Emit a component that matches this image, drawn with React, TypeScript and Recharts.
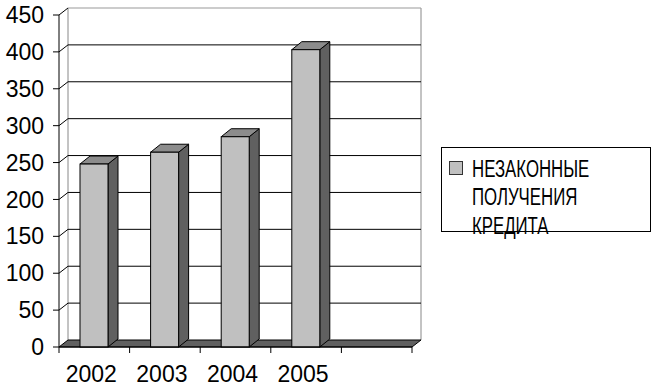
import { BarChart, Bar, XAxis, YAxis, CartesianGrid, Legend } from "recharts";

const years = ["2002", "2003", "2004", "2005", ""];
const credits = [248, 264, 285, 403, null];
const yTicks = [0, 50, 100, 150, 200, 250, 300, 350, 400, 450];
const seriesName = "НЕЗАКОННЫЕ ПОЛУЧЕНИЯ КРЕДИТА";
const legendLines = ["НЕЗАКОННЫЕ", "ПОЛУЧЕНИЯ", "КРЕДИТА"];

const data = years.map((year, i) => ({ year, value: credits[i] }));

const W = 652;
const H = 387;
const MARGIN = { top: 15, right: 240, bottom: 10, left: 0 };
const Y_AXIS_W = 59;
const X_AXIS_H = 30;
const PLOT_LEFT = MARGIN.left + Y_AXIS_W;
const PLOT_RIGHT = W - MARGIN.right;
const PLOT_TOP = MARGIN.top;
const PLOT_BOTTOM = H - MARGIN.bottom - X_AXIS_H;
const BAND = (PLOT_RIGHT - PLOT_LEFT) / years.length;

// depth of the fake 3d walls and of the bars
const WALL_DX = 9;
const WALL_DY = 7;
const BAR_DX = 10;
const BAR_DY = 8;

const FONT = "'Liberation Sans', Arial, sans-serif";

function gridLine(props: any) {
  const { x1, x2, y1, index } = props;
  const y = y1;
  if (Math.abs(y - PLOT_BOTTOM) < 0.5) {
    // floor and back wall edges
    return (
      <g key={`h-${index}`}>
        <line x1={x1 + WALL_DX} y1={PLOT_TOP - WALL_DY} x2={x1 + WALL_DX} y2={y - WALL_DY} stroke="#888" />
        <line x1={x2 + WALL_DX} y1={PLOT_TOP - WALL_DY} x2={x2 + WALL_DX} y2={y - WALL_DY} stroke="#888" />
        <polygon
          points={`${x1},${y} ${x2},${y} ${x2 + WALL_DX},${y - WALL_DY} ${x1 + WALL_DX},${y - WALL_DY}`}
          fill="#606060"
          stroke="#000"
          strokeWidth={1}
        />
      </g>
    );
  }
  const isTop = Math.abs(y - PLOT_TOP) < 0.5;
  return (
    <g key={`h-${index}`}>
      <line x1={x1} y1={y} x2={x1 + WALL_DX} y2={y - WALL_DY} stroke="#000" />
      <line
        x1={x1 + WALL_DX}
        y1={y - WALL_DY}
        x2={x2 + WALL_DX}
        y2={y - WALL_DY}
        stroke={isTop ? "#999" : "#000"}
      />
    </g>
  );
}

function Bar3D(props: any) {
  const { x, y, width, height } = props;
  if (!height || height <= 0) return null;
  const r = x + width;
  const b = y + height;
  return (
    <g>
      <polygon
        points={`${r},${y} ${r + BAR_DX},${y - BAR_DY} ${r + BAR_DX},${b - BAR_DY} ${r},${b}`}
        fill="#606060"
        stroke="#000"
      />
      <polygon
        points={`${x},${y} ${x + BAR_DX},${y - BAR_DY} ${r + BAR_DX},${y - BAR_DY} ${r},${y}`}
        fill="#8c8c8c"
        stroke="#000"
      />
      <rect x={x} y={y} width={width} height={height} fill="#c0c0c0" stroke="#000" />
    </g>
  );
}

function XTick(props: any) {
  const { x, y, payload, index } = props;
  const left = x - BAND / 2;
  return (
    <g>
      <line x1={left} y1={PLOT_BOTTOM} x2={left} y2={PLOT_BOTTOM + 6} stroke="#000" />
      {index === years.length - 1 ? (
        <line x1={x + BAND / 2} y1={PLOT_BOTTOM} x2={x + BAND / 2} y2={PLOT_BOTTOM + 6} stroke="#000" />
      ) : null}
      <text x={x - 3} y={y + 1} dy="0.71em" textAnchor="middle" fill="#000" fontSize={23} fontFamily={FONT}>
        {payload.value}
      </text>
    </g>
  );
}

function LegendBox() {
  return (
    <div
      style={{
        boxSizing: "border-box",
        width: 210,
        height: 85,
        border: "1px solid #000",
        position: "relative",
        background: "#fff",
      }}
    >
      <div
        style={{
          position: "absolute",
          left: 7,
          top: 13,
          width: 12,
          height: 12,
          background: "#c0c0c0",
          border: "1px solid #333",
        }}
      />
      <div
        style={{
          position: "absolute",
          left: 30,
          top: 7,
          fontFamily: FONT,
          fontSize: 23,
          lineHeight: "28.3px",
          color: "#000",
          whiteSpace: "nowrap",
          textAlign: "left",
          transform: "scaleX(0.73)",
          transformOrigin: "left top",
        }}
      >
        {legendLines.map((l) => (
          <div key={l}>{l}</div>
        ))}
      </div>
    </div>
  );
}

export default function App() {
  return (
    <div style={{ position: "absolute", left: 0, top: 0, width: W, height: H, background: "#fff" }}>
      <BarChart width={W} height={H} data={data} margin={MARGIN} barCategoryGap={0}>
        <CartesianGrid horizontal={gridLine} vertical={false} />
        <XAxis
          dataKey="year"
          height={X_AXIS_H}
          axisLine={{ stroke: "#000" }}
          tickLine={false}
          tick={<XTick />}
          tickMargin={12}
          tickSize={6}
          interval={0}
        />
        <YAxis
          width={Y_AXIS_W}
          domain={[0, 450]}
          ticks={yTicks}
          interval={0}
          axisLine={{ stroke: "#000" }}
          tickLine={{ stroke: "#000" }}
          tickSize={6}
          tickMargin={9}
          tick={{ fill: "#000", fontSize: 23, fontFamily: FONT }}
        />
        <Legend
          layout="vertical"
          align="center"
          verticalAlign="middle"
          wrapperStyle={{ left: 441, top: 147, width: 210, height: 85 }}
          content={() => <LegendBox />}
        />
        <Bar
          dataKey="value"
          name={seriesName}
          barSize={28}
          shape={<Bar3D />}
          isAnimationActive={false}
        />
      </BarChart>
    </div>
  );
}
